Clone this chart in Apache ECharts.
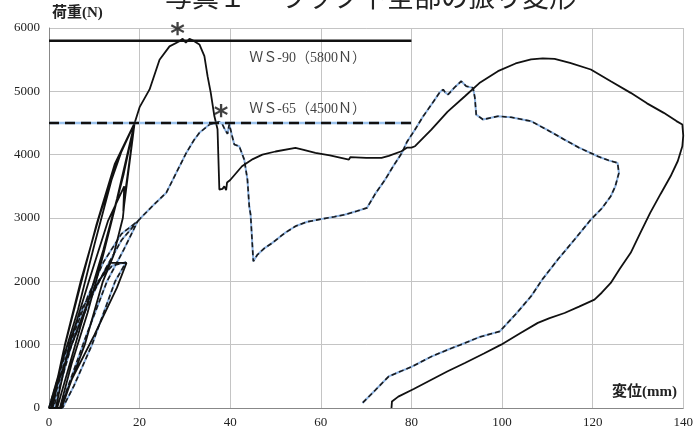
<!DOCTYPE html>
<html>
<head>
<meta charset="utf-8">
<script src="https://cdn.jsdelivr.net/npm/echarts@6.0.0/dist/echarts.min.js"></script>
<style>
  html, body { margin: 0; padding: 0; background: #fff; }
  #chart { width: 696px; height: 435px; }
</style>
</head>
<body>
<div id="chart"></div>
<script>
// x tick labels / y tick labels
var xTicks = [0, 20, 40, 60, 80, 100, 120, 140];
var yTicks = [0, 1000, 2000, 3000, 4000, 5000, 6000];

// WS-90 specimen (solid black): cyclic loops, then the full run
var ws90Path = [
  [0,0],[5,1000],[9,1750],[13.4,2290],[17.1,2290],[15,1900],[10,1150],[5,450],[2.5,0],
  [0,0],[3,750],[6.4,1550],[10.1,2600],[13.8,3600],[16,4050],[18.9,4500],
  [16.5,3700],[14,3000],[11.9,2400],[8.5,1500],[5,700],[2.4,0],
  [0.8,0],[3.5,1000],[7,2000],[11,3000],[15,3900],[18.9,4500],
  [17,3500],[16.3,3000],[14.2,2400],[11.9,2000],[7.9,1000],[4.5,350],[2.8,0],
  [1.5,0],[4.5,1000],[9,2050],[13,2950],[16.6,3500],[16.4,3100],[18.9,4500],
  [15,3300],[12,2500],[7,1300],[3,300],[1.8,0],
  [0.5,0],[3.2,900],[6.8,1900],[10.5,2900],[14.5,3850],[18.9,4500],
  [20,4750],[22.2,5030],[24.4,5500],[26.6,5710],[28.8,5790],[29.5,5830],[30.2,5770],[31,5830],[31.7,5805],
  [33.2,5740],[34.3,5555],[35,5240],[35.7,4980],[36.5,4610],[37.2,4400],[37.6,3450],[38.3,3460],
  [38.7,3500],[39.1,3440],[39.3,3560],[40,3600],[42.6,3817],[45,3930],[47.1,4000],[50,4050],
  [54.4,4107],[56,4080],[58.8,4028],[62,3990],[66.2,3922],[66.5,3960],[70,3950],[73.4,3950],
  [75,3980],[77.8,4054],[79,4110],[80,4110],[80.8,4133],[84.4,4395],[88,4680],[91.8,4923],
  [95,5130],[99.1,5318],[103,5440],[106.4,5503],[109,5520],[111.6,5513],[115,5450],[119.6,5345],
  [124,5160],[128.4,4976],[132,4810],[135.7,4660],[138.5,4530],[139.8,4476],
  [140,4300],[139.8,4133],[138.8,3900],[137.2,3659],[135,3380],[132.7,3080],[130.5,2760],
  [128.4,2450],[126,2200],[124,1975],[122,1820],[120.4,1711],[117,1600],[113.8,1500],
  [110.5,1420],[107.9,1344],[104,1180],[99.8,1000],[96,860],[91.8,711],[88,580],[84.4,447],
  [80.5,300],[77.1,180],[75.7,104],[75.6,0]
];

// WS-65 specimen (dashed black over light blue)
var ws65Path = [
  [0,0],[4.2,1000],[7.5,1600],[10.8,2000],[14,2250],[17,2300],[14.6,2000],[9.5,1000],[5.5,350],[3,0],
  [1,0],[5,1000],[9,1700],[12.5,2200],[16,2650],[19.6,2950],[16.5,2500],[12.8,2000],[8,1100],[4,300],[2.5,0],
  [0.5,0],[4.6,1000],[8.5,1750],[12,2300],[16,2750],[19.6,2950],
  [20.5,3020],[23,3200],[25.9,3400],[28,3700],[30.3,4028],[32,4230],[33.2,4345],[35.4,4475],
  [36.8,4500],[37.5,4520],[38.2,4490],[38.8,4400],[39.4,4330],[39.8,4480],[40.1,4505],[40.4,4300],
  [40.9,4160],[42,4133],[43.1,3922],[43.8,3607],[44.2,3185],[44.5,3054],[45.1,2316],[46,2420],
  [47.5,2520],[49.3,2607],[52,2760],[54.4,2870],[57,2940],[60.3,2986],[63,3020],[65.4,3054],
  [68,3110],[70.2,3160],[72,3380],[74.2,3607],[76,3820],[77.9,4028],[79,4200],[80.8,4397],
  [82.6,4607],[84.5,4800],[86.2,4980],[87,5028],[87.5,4980],[88.1,4950],[89.5,5060],[91,5160],
  [92.1,5081],[93.6,5055],[94,4900],[94.3,4633],[95.8,4555],[99.1,4607],[102,4590],[106.4,4528],
  [110,4390],[113.7,4240],[117,4110],[121.1,3975],[123.5,3910],[125.5,3870],[125.8,3712],
  [125,3500],[124,3343],[122,3150],[119.6,2975],[116,2660],[112.3,2343],[109,2040],[106.4,1763],
  [103,1480],[99.5,1210],[95,1120],[91.8,1026],[88,920],[84.5,815],[80,650],[77,560],[75,500],
  [72,280],[69.2,80]
];

// required load lines
var ws90Ref = [[0,5800],[80,5800]];
var ws65Ref = [[0,4500],[80,4500]];

// annotations
var noteText = ['ＷＳ-90（5800Ｎ）', 'ＷＳ-65（4500Ｎ）'];
var notePos = [[44.2,5527],[44.2,4710]];
var starPos = [[28.4,5975],[38,4683]];

window.onload = function () {
  var chart = echarts.init(document.getElementById('chart'));
  var serif = "'Liberation Serif', 'Noto Sans CJK JP', serif";

  var notes = [];
  for (var i = 0; i < noteText.length; i++) {
    notes.push({ value: notePos[i], name: noteText[i] });
  }

  var lineBase = {
    type: 'line',
    showSymbol: false,
    symbol: 'none',
    smooth: false,
    animation: false,
    silent: true
  };

  var option = {
    animation: false,
    backgroundColor: '#fff',
    grid: { left: 49, right: 10, top: 28, bottom: 27 },
    xAxis: {
      type: 'value',
      min: 0, max: 140, interval: 20,
      axisLine: { show: true, lineStyle: { color: '#888', width: 1 } },
      axisTick: { show: false },
      splitLine: { show: true, lineStyle: { color: '#c4c4c4', width: 1 } },
      axisLabel: {
        color: '#222', fontFamily: serif, fontSize: 13, margin: 8,
        formatter: function (v) { return xTicks.indexOf(v) >= 0 ? String(v) : ''; }
      }
    },
    yAxis: {
      type: 'value',
      min: 0, max: 6000, interval: 1000,
      axisLine: { show: true, lineStyle: { color: '#888', width: 1 } },
      axisTick: { show: false },
      splitLine: { show: true, lineStyle: { color: '#c4c4c4', width: 1 } },
      axisLabel: {
        color: '#222', fontFamily: serif, fontSize: 13, margin: 9,
        formatter: function (v) { return yTicks.indexOf(v) >= 0 ? String(v) : ''; }
      }
    },
    graphic: [
      {
        type: 'text', left: 165, top: -17,
        style: { text: '写真１ ーラック下全部の振り変形', fill: '#222', fontSize: 27,
                 fontFamily: "'Noto Sans CJK JP', sans-serif" }
      },
      {
        type: 'text', left: 52, top: 6,
        style: { text: '荷重(N)', fill: '#222', fontSize: 15, fontWeight: 'bold',
                 fontFamily: serif }
      },
      {
        type: 'text', left: 612, top: 385,
        style: { text: '変位(mm)', fill: '#222', fontSize: 15, fontWeight: 'bold',
                 fontFamily: serif }
      }
    ],
    series: [
      Object.assign({}, lineBase, {
        name: 'WS-65 base', data: ws65Path, z: 2,
        lineStyle: { color: '#8db3e2', width: 2 }
      }),
      Object.assign({}, lineBase, {
        name: 'WS-65', data: ws65Path, z: 3,
        lineStyle: { color: '#1a1a1a', width: 1.6, type: [5, 3] }
      }),
      Object.assign({}, lineBase, {
        name: 'WS-90', data: ws90Path, z: 4,
        lineStyle: { color: '#111', width: 1.8 }
      }),
      Object.assign({}, lineBase, {
        name: 'WS-90 ref', data: ws90Ref, z: 5,
        lineStyle: { color: '#111', width: 2.5 }
      }),
      Object.assign({}, lineBase, {
        name: 'WS-65 ref base', data: ws65Ref, z: 5,
        lineStyle: { color: '#9cc3ee', width: 2.5 }
      }),
      Object.assign({}, lineBase, {
        name: 'WS-65 ref', data: ws65Ref, z: 6,
        lineStyle: { color: '#111', width: 2.5, type: [10, 6] }
      }),
      {
        type: 'scatter', name: 'notes', data: notes, symbolSize: 0, silent: true, z: 7,
        label: {
          show: true, position: 'right', distance: 0,
          formatter: function (p) { return p.name; },
          color: '#111', fontSize: 14, fontFamily: serif
        }
      },
      {
        type: 'scatter', name: 'stars', data: starPos, symbolSize: 0, silent: true, z: 7,
        label: {
          show: true, position: 'inside', formatter: '*',
          color: '#111', fontSize: 28, fontWeight: 'bold',
          fontFamily: "'DejaVu Sans', sans-serif", offset: [0, 6]
        }
      }
    ]
  };

  chart.setOption(option);
};
</script>
</body>
</html>
